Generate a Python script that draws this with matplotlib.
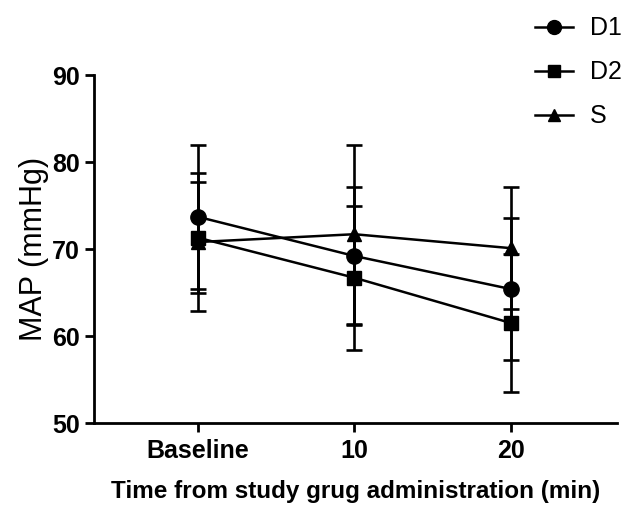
import numpy as np
import matplotlib
matplotlib.use('Agg')
import matplotlib.pyplot as plt
from matplotlib.lines import Line2D

plt.rcParams['font.family'] = ['Liberation Sans', 'DejaVu Sans']

times = ['Baseline', '10', '20']
d1_mean = [73.7, 69.2, 65.4]
d1_sd = [8.3, 7.9, 8.2]
d2_mean = [71.3, 66.7, 61.5]
d2_sd = [6.4, 8.3, 7.9]
s_mean = [70.8, 71.7, 70.1]
s_sd = [7.9, 10.3, 7.0]

series = [('D1', d1_mean, d1_sd, 'o', 11),
          ('D2', d2_mean, d2_sd, 's', 10),
          ('S', s_mean, s_sd, '^', 10)]

fig = plt.figure(figsize=(6.41, 5.13), dpi=100)
ax = fig.add_axes([0.1466, 0.1754, 0.816, 0.6784])

x = np.arange(len(times))
handles = []
for name, m, sd, mk, ms in series:
    ax.errorbar(x, m, yerr=sd, color='black', marker=mk, markersize=ms,
                linewidth=1.8, elinewidth=1.9, capsize=5.5, capthick=1.9)
    handles.append(Line2D([], [], color='black', marker=mk, markersize=ms - 1,
                          linewidth=1.8, label=name))

ax.set_xlim(-0.665, 2.68)
ax.set_ylim(50, 90)
ax.set_yticks([50, 60, 70, 80, 90])
ax.set_xticks(x)
ax.set_xticklabels(times)
for sp in ['top', 'right']:
    ax.spines[sp].set_visible(False)
for sp in ['left', 'bottom']:
    ax.spines[sp].set_linewidth(2)
ax.tick_params(width=2, length=6.5, labelsize=18, pad=3.5)
ax.tick_params(axis='x', pad=5)
for lab in ax.get_xticklabels() + ax.get_yticklabels():
    lab.set_fontweight('bold')

ax.set_ylabel('MAP (mmHg)', fontsize=22, labelpad=2)
ax.set_xlabel('Time from study grug administration (min)', fontsize=17.5,
              fontweight='bold', labelpad=12)

fig.legend(handles=handles, loc='upper left', bbox_to_anchor=(0.80, 1.012),
           frameon=False, fontsize=18, handlelength=1.5, labelspacing=0.8,
           handletextpad=0.7)

fig.savefig('out.png', dpi=100)
